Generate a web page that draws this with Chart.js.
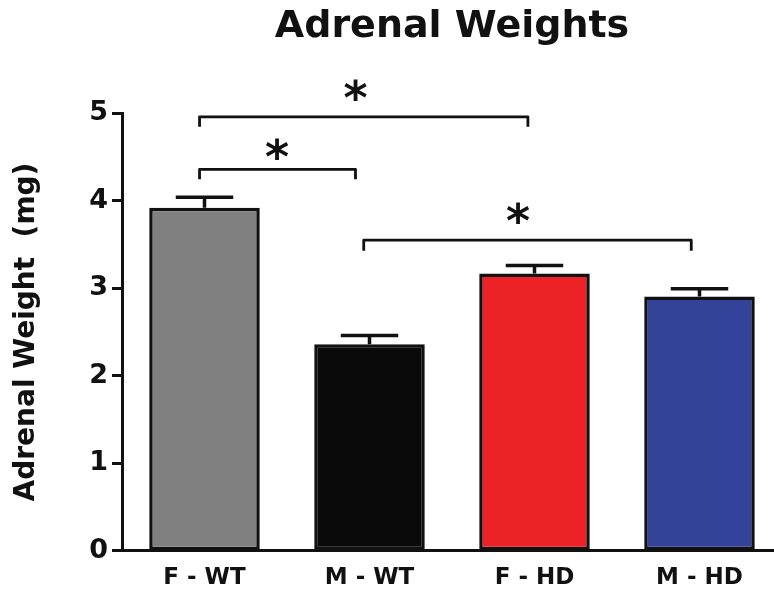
<!DOCTYPE html>
<html>
<head>
<meta charset="utf-8">
<script src="https://cdn.jsdelivr.net/npm/chart.js@4.4.0/dist/chart.umd.min.js"></script>
<style>
body{margin:0;overflow:hidden;background:#fff}
</style>
</head>
<body>
<canvas id="chartA" width="782" height="593"></canvas>
<script>
'use strict'

// datos del grafico
let groups = ['F - WT', 'M - WT', 'F - HD', 'M - HD'];
let weights = [3.92, 2.36, 3.17, 2.905];
let errors = [0.12, 0.10, 0.09, 0.09];
let colors = ['#808080', '#0a0a0a', '#ec2227', '#33439a'];
let yTicks = [0, 1, 2, 3, 4, 5];

// comparaciones (posicion en grupos, nivel en mg)
let compFrom = [-0.03, -0.03, 0.965];
let compTo = [1.96, 0.915, 2.95];
let compLevel = [4.96, 4.36, 3.55];
let compDrop = [0.115, 0.115, 0.12];
let starX = [0.915, 0.44, 1.90];
let starY = [5.23, 4.56, 3.82];

let fontFam = 'DejaVu Sans';

//barras de error
const errorBars = {
    id: 'errorBars',
    afterDatasetsDraw(chart) {
        const ctx = chart.ctx;
        const y = chart.scales.y;
        const meta = chart.getDatasetMeta(0);
        ctx.save();
        ctx.strokeStyle = '#111';
        ctx.lineWidth = 3.5;
        meta.data.forEach((bar, i) => {
            const top = y.getPixelForValue(weights[i] + errors[i]);
            const half = bar.width * 0.26;
            ctx.beginPath();
            ctx.moveTo(bar.x, bar.y);
            ctx.lineTo(bar.x, top);
            ctx.moveTo(bar.x - half, top);
            ctx.lineTo(bar.x + half, top);
            ctx.stroke();
        });
        ctx.restore();
    }
};

//corchetes y asteriscos
const brackets = {
    id: 'brackets',
    afterDraw(chart) {
        const ctx = chart.ctx;
        const x = chart.scales.x;
        const y = chart.scales.y;
        ctx.save();
        ctx.strokeStyle = '#111';
        ctx.lineWidth = 2.8;
        ctx.lineJoin = 'round';
        for (let i = 0; i < compLevel.length; i++) {
            const x1 = x.getPixelForValue(compFrom[i]);
            const x2 = x.getPixelForValue(compTo[i]);
            const yl = y.getPixelForValue(compLevel[i]);
            const yd = y.getPixelForValue(compLevel[i] - compDrop[i]);
            ctx.beginPath();
            ctx.moveTo(x1, yd);
            ctx.lineTo(x1, yl);
            ctx.lineTo(x2, yl);
            ctx.lineTo(x2, yd);
            ctx.stroke();
        }
        ctx.fillStyle = '#111';
        ctx.font = 'bold 46px ' + fontFam;
        ctx.textAlign = 'center';
        ctx.textBaseline = 'middle';
        for (let i = 0; i < starX.length; i++) {
            ctx.fillText('*', x.getPixelForValue(starX[i]), y.getPixelForValue(starY[i]) + 9);
        }
        ctx.restore();
    }
};

const ctx = document.getElementById('chartA').getContext('2d');
const myChart = new Chart(ctx, {
    type: 'bar',
    data: {
        labels: groups,
        datasets: [{
            label: 'Adrenal Weight',
            data: weights,
            backgroundColor: colors,
            borderColor: '#111',
            borderWidth: 3.5,
            borderSkipped: false,
            categoryPercentage: 1,
            barPercentage: 0.67
        }]
    },
    options: {
        responsive: false,
        animation: false,
        layout: {
            padding: {top: 0, right: 0, bottom: 0, left: 0}
        },
        plugins: {
            legend: {display: false},
            tooltip: {enabled: false},
            title: {
                display: true,
                text: 'Adrenal Weights',
                color: '#111',
                fullSize: false,
                font: {family: fontFam, size: 38, weight: 'bold'},
                padding: {top: 4, bottom: 63.7}
            }
        },
        scales: {
            x: {
                grid: {display: false},
                border: {display: true, color: '#111', width: 3},
                ticks: {
                    color: '#111',
                    padding: 6,
                    font: {family: fontFam, size: 23, weight: 'bold'}
                },
                afterFit: function(scale) { scale.height = 42.3; }
            },
            y: {
                min: 0,
                max: 5,
                afterBuildTicks: function(scale) {
                    scale.ticks = yTicks.map(v => ({value: v}));
                },
                grid: {
                    drawOnChartArea: false,
                    tickLength: 10,
                    tickWidth: 3,
                    tickColor: '#111'
                },
                border: {display: true, color: '#111', width: 3},
                ticks: {
                    color: '#111',
                    padding: 4,
                    font: {family: fontFam, size: 27, weight: 'bold'}
                },
                title: {
                    display: true,
                    text: 'Adrenal Weight  (mg)',
                    color: '#111',
                    font: {family: fontFam, size: 28, weight: 'bold'},
                    padding: {top: 10, bottom: 0}
                },
                afterFit: function(scale) { scale.width = 122; }
            }
        }
    },
    plugins: [errorBars, brackets]
});
</script>
</body>
</html>
